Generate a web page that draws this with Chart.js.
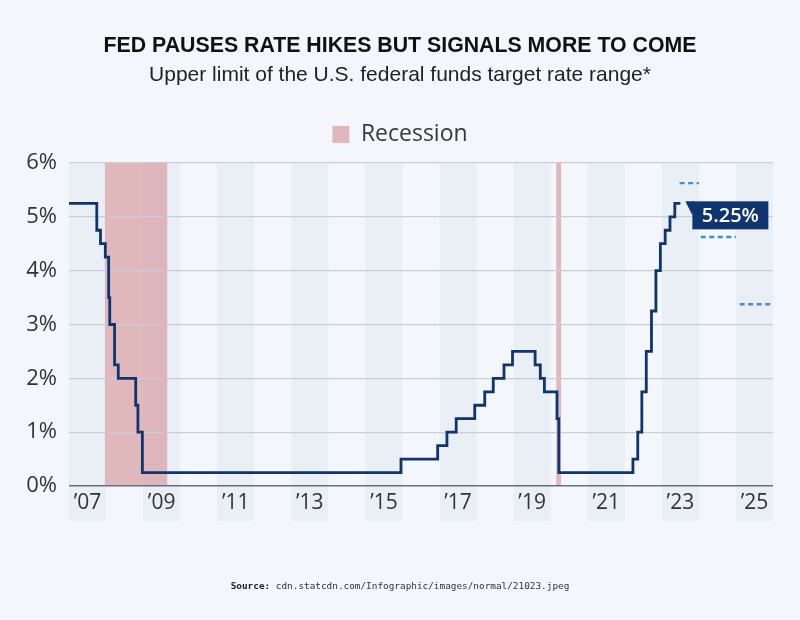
<!DOCTYPE html>
<html>
<head>
<meta charset="utf-8">
<script src="https://cdn.jsdelivr.net/npm/chart.js@4/dist/chart.umd.min.js"></script>
<style>
  body { margin: 0; background: #f3f6fa; }
  #wrap { position: relative; width: 800px; height: 620px; }
  #source { position: absolute; left: 0; width: 800px; top: 580px; text-align: center;
    font-family: 'DejaVu Sans Mono', monospace; font-size: 9.4px; color: #333; }
  #source b { color: #222; }
</style>
</head>
<body>
<div id="wrap">
  <canvas id="rates" width="800" height="620"></canvas>
  <div id="source"><b>Source:</b> cdn.statcdn.com/Infographic/images/normal/21023.jpeg</div>
</div>
<script>
// upper limit of the target range, each value holds from its date until the next one
var rateDates = [2007.0, 2007.75, 2007.85, 2007.98, 2008.07, 2008.1, 2008.23, 2008.33, 2008.8, 2008.86, 2008.98,
  2015.96, 2016.95, 2017.2, 2017.45, 2017.95, 2018.22, 2018.45, 2018.74, 2018.97,
  2019.58, 2019.72, 2019.83, 2020.17, 2020.22,
  2022.22, 2022.35, 2022.46, 2022.58, 2022.72, 2022.84, 2022.96, 2023.09, 2023.22, 2023.35, 2023.5];
var rateValues = [5.25, 4.75, 4.5, 4.25, 3.5, 3.0, 2.25, 2.0, 1.5, 1.0, 0.25,
  0.5, 0.75, 1.0, 1.25, 1.5, 1.75, 2.0, 2.25, 2.5,
  2.25, 2.0, 1.75, 1.25, 0.25,
  0.5, 1.0, 1.75, 2.5, 3.25, 4.0, 4.5, 4.75, 5.0, 5.25, 5.25];

// FOMC median projections (dashed)
var projStart = [2023.48, 2024.05, 2025.1];
var projEnd = [2024.0, 2025.0, 2026.0];
var projValues = [5.625, 4.625, 3.375];

var recessionStart = [2007.97, 2020.15];
var recessionEnd = [2009.65, 2020.28];

var shadedYears = [2007, 2009, 2011, 2013, 2015, 2017, 2019, 2021, 2023, 2025];
var yTicks = [0, 1, 2, 3, 4, 5, 6];

var lastLabel = '5.25%';

var points = rateDates.map(function (d, i) { return { x: d, y: rateValues[i] }; });

var datasets = [{
  label: 'Rate',
  data: points,
  xAxisID: 'x',
  yAxisID: 'y',
  stepped: true,
  borderColor: '#0f3570',
  borderWidth: 2.8,
  pointRadius: 0,
  fill: false
}];
for (var i = 0; i < projValues.length; i++) {
  datasets.push({
    label: 'Projection',
    data: [{ x: projStart[i], y: projValues[i] }, { x: projEnd[i], y: projValues[i] }],
    xAxisID: 'x',
    yAxisID: 'y',
    borderColor: '#3b8fdc',
    borderWidth: 2.4,
    borderDash: [5, 3.5],
    pointRadius: 0,
    fill: false
  });
}
datasets.push({
  label: 'Recession',
  data: [],
  xAxisID: 'x',
  yAxisID: 'y',
  backgroundColor: 'rgba(214,150,154,0.65)',
  borderColor: 'rgba(214,150,154,0.65)',
  borderWidth: 0
});

var bandsPlugin = {
  id: 'bands',
  beforeDraw: function (chart) {
    var ctx = chart.ctx, xs = chart.scales.x, area = chart.chartArea;
    ctx.save();
    ctx.fillStyle = '#eaeef5';
    shadedYears.forEach(function (yr) {
      var x0 = xs.getPixelForValue(yr), x1 = xs.getPixelForValue(Math.min(yr + 1, xs.max));
      ctx.fillRect(x0, area.top, x1 - x0, area.bottom - area.top + 35);
    });
    ctx.fillStyle = 'rgba(214,150,154,0.65)';
    recessionStart.forEach(function (s, i) {
      var x0 = xs.getPixelForValue(s), x1 = xs.getPixelForValue(recessionEnd[i]);
      ctx.fillRect(x0, area.top, x1 - x0, area.bottom - area.top);
    });
    ctx.restore();
  }
};

var labelPlugin = {
  id: 'lastLabel',
  afterDatasetsDraw: function (chart) {
    var ctx = chart.ctx, xs = chart.scales.x, ys = chart.scales.y;
    var last = points[points.length - 1];
    var px = xs.getPixelForValue(last.x) + 5;
    var py = ys.getPixelForValue(last.y);
    var left = px + 7, top = py - 2, w = 76, h = 28;
    ctx.save();
    ctx.fillStyle = '#0f3570';
    ctx.beginPath();
    ctx.moveTo(px, top);
    ctx.lineTo(left + 2, top);
    ctx.lineTo(left, top + 14);
    ctx.closePath();
    ctx.fill();
    ctx.fillRect(left, top, w, h);
    ctx.fillStyle = '#ffffff';
    ctx.font = '600 20px "Open Sans"';
    ctx.textAlign = 'center';
    ctx.textBaseline = 'middle';
    ctx.fillText(lastLabel, left + w / 2, top + h / 2 + 1);
    ctx.restore();
  }
};

// empty axes used only as spacers (above the plot, right of it)
var spacer = function (pos, size) {
  return {
    type: 'linear',
    position: pos,
    afterFit: function (s) { if (pos === 'top') s.height = size; else s.width = size; },
    grid: { display: false, drawTicks: false },
    border: { display: false },
    ticks: { display: false }
  };
};

new Chart(document.getElementById('rates'), {
  type: 'line',
  data: { datasets: datasets },
  plugins: [bandsPlugin, labelPlugin],
  options: {
    responsive: false,
    animation: false,
    layout: { padding: { left: 0, right: 0, top: 0, bottom: 94 } },
    plugins: {
      title: {
        display: true,
        text: 'FED PAUSES RATE HIKES BUT SIGNALS MORE TO COME',
        color: '#111',
        font: { family: 'Liberation Sans', size: 21.3, weight: 'bold' },
        padding: { top: 33.5, bottom: 0 }
      },
      subtitle: {
        display: true,
        text: 'Upper limit of the U.S. federal funds target rate range*',
        color: '#222',
        font: { family: 'Liberation Sans', size: 21 },
        padding: { top: 3.3, bottom: 25.4 }
      },
      legend: {
        display: true,
        labels: {
          filter: function (item) { return item.text === 'Recession'; },
          boxWidth: 17,
          boxHeight: 17,
          padding: 10,
          color: '#3a3a3a',
          font: { family: 'Open Sans', size: 23 }
        }
      },
      tooltip: { enabled: false }
    },
    scales: {
      x: {
        type: 'linear',
        min: 2007,
        max: 2026,
        afterFit: function (s) { s.height = 40; },
        afterBuildTicks: function (s) {
          s.ticks = shadedYears.map(function (yr) { return { value: yr + 0.5 }; });
        },
        grid: { display: false, drawTicks: false },
        border: { display: false },
        ticks: {
          padding: 4,
          color: '#333',
          font: { family: 'Open Sans', size: 21 },
          maxRotation: 0,
          autoSkip: false,
          callback: function (v) { return '\u2019' + String(Math.floor(v)).slice(2); }
        }
      },
      y: {
        min: 0,
        max: 6,
        afterFit: function (s) { s.width = 69; },
        afterBuildTicks: function (s) {
          s.ticks = yTicks.map(function (v) { return { value: v }; });
        },
        grid: {
          drawTicks: false,
          color: function (c) { return c.tick.value === 0 ? '#6b6f76' : '#c9ced6'; },
          lineWidth: function (c) { return c.tick.value === 0 ? 1.6 : 1.2; }
        },
        border: { display: false },
        ticks: {
          padding: 12,
          color: '#333',
          font: { family: 'Open Sans', size: 22 },
          callback: function (v) { return v + '%'; }
        }
      },
      gapTop: spacer('top', 7),
      gapRight: spacer('right', 27)
    }
  }
});
</script>
</body>
</html>
